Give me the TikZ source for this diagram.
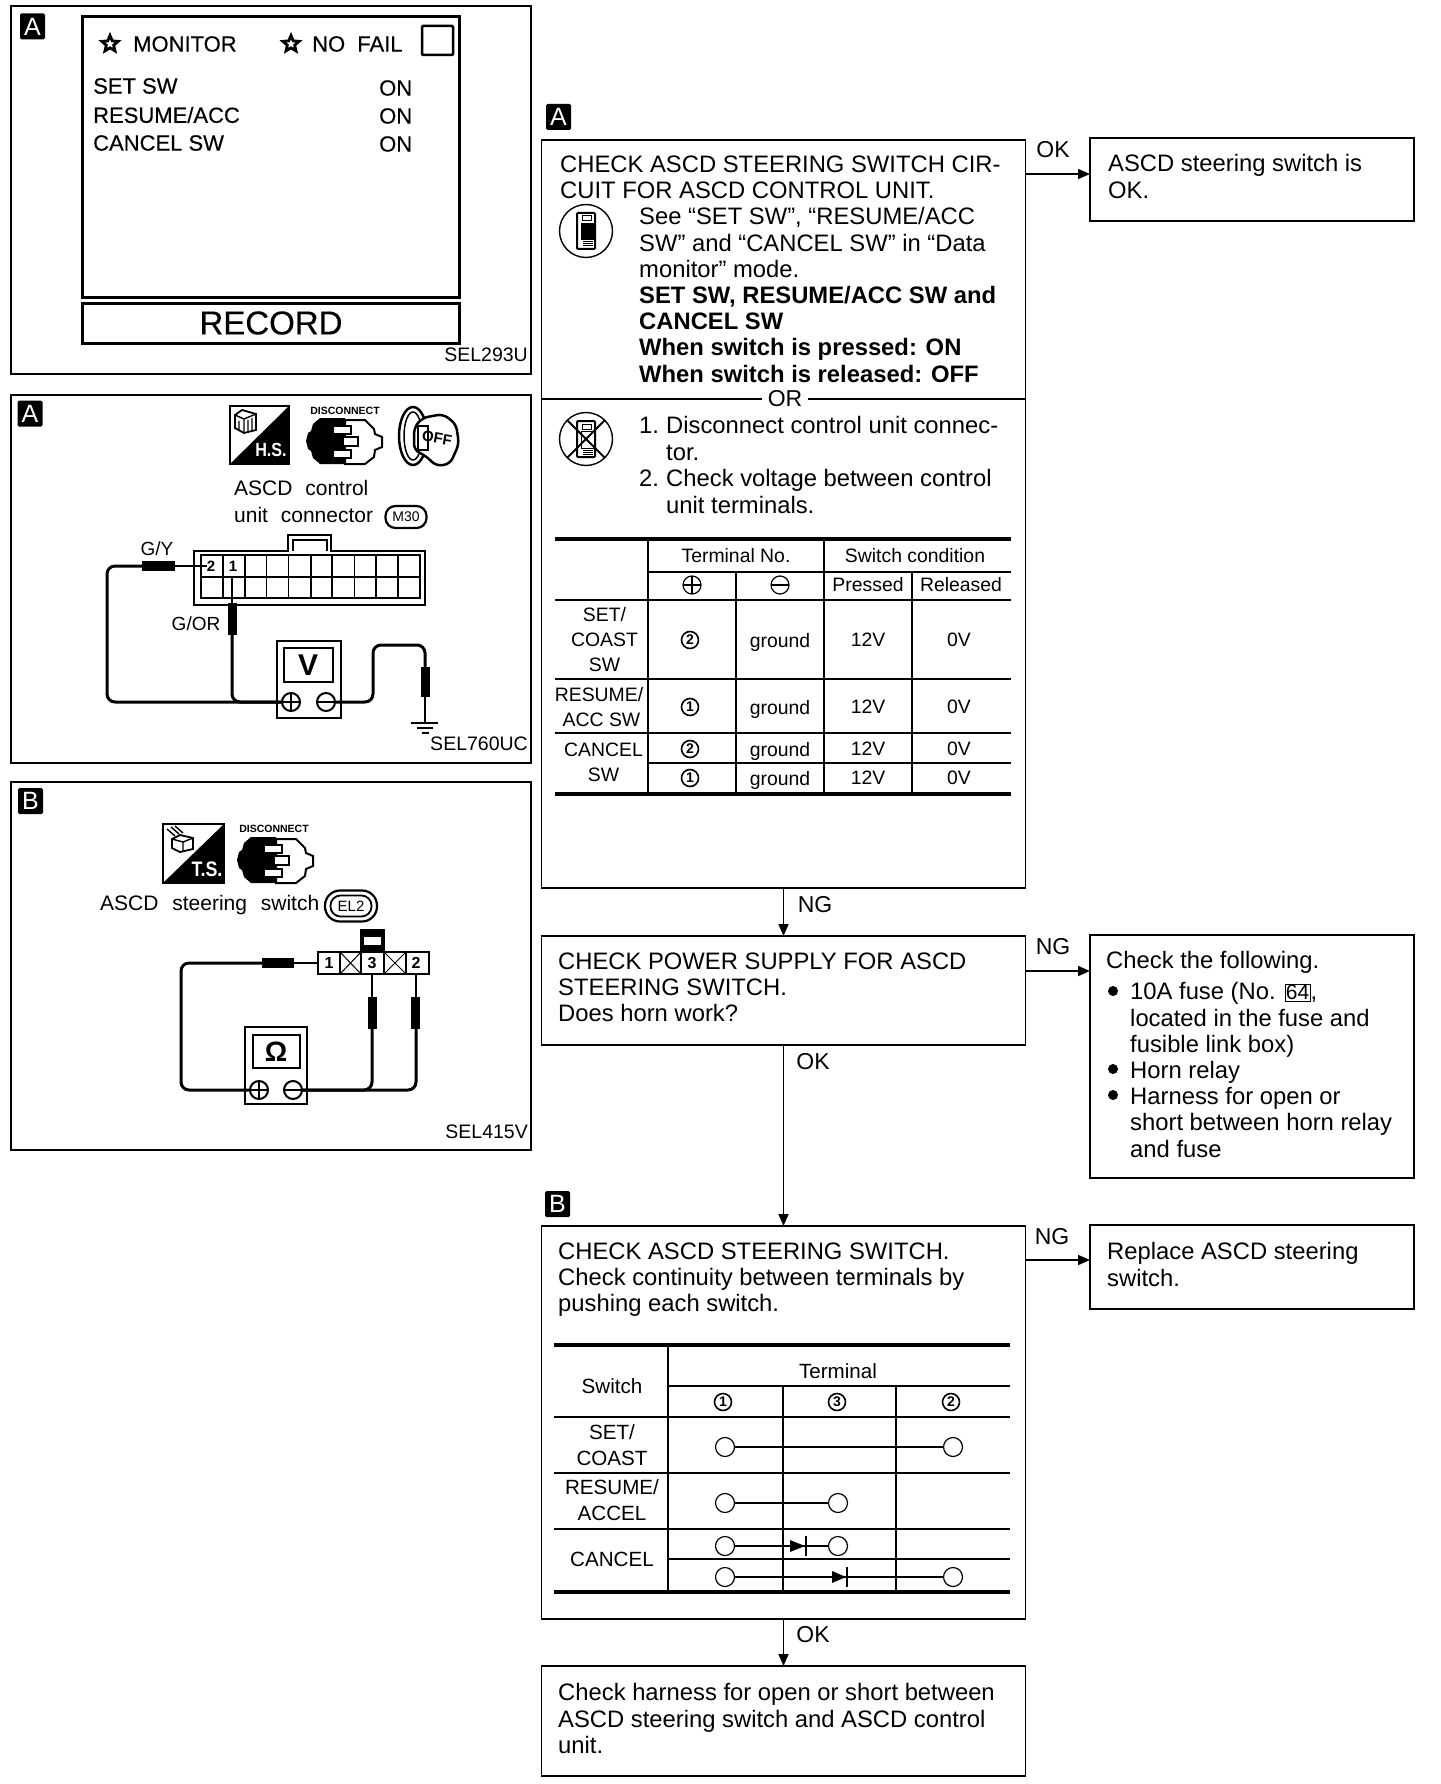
\documentclass[tikz,border=0pt]{standalone}
\usepackage{fontspec}
\setmainfont{Liberation Sans}
\newfontfamily\heavyfont[FakeBold=0.35]{Liberation Sans}
\usetikzlibrary{arrows.meta,shapes.geometric}
\setlength{\fboxsep}{1pt}
\tikzset{
  panelframe/.style={draw,line width=1.6pt,inner sep=0pt,outer sep=0pt},
  flowbox/.style={draw,line width=1.8pt,inner sep=0pt,outer sep=0pt},
  flowarrow/.style={line width=1.6pt,-{Triangle[length=12pt,width=10pt]}},
  tagbox/.style={fill=black,text=white,rounded corners=1.5pt,minimum width=25pt,minimum height=26pt,inner sep=0pt,font=\fontsize{25}{25}\selectfont},
  boxtext/.style={anchor=north west,align=left,inner sep=0pt,font=\fontsize{23.8}{26.2}\selectfont},
  arrowtext/.style={inner sep=0pt,font=\fontsize{23}{23}\selectfont},
  monitext/.style={anchor=west,inner sep=0pt,font=\heavyfont\fontsize{22}{22}\selectfont},
  labeltext/.style={anchor=west,inner sep=0pt,font=\fontsize{21}{21}\selectfont},
  codetext/.style={anchor=east,inner sep=0pt,font=\fontsize{19.5}{19.5}\selectfont},
  tabletext/.style={inner sep=0pt,align=center,font=\fontsize{19.4}{25}\selectfont},
  widetext/.style={inner sep=0pt,align=center,font=\fontsize{20.6}{26}\selectfont},
  termmark/.style={draw,circle,line width=1.6pt,inner sep=0pt,minimum size=17pt,font=\bfseries\fontsize{14}{14}\selectfont},
  polemark/.style={draw,circle,line width=1.2pt,inner sep=0pt,minimum size=18pt},
  heavyrule/.style={line width=4pt},
  tablerule/.style={line width=2pt},
  wire/.style={line width=3pt,rounded corners=8pt},
  thinwire/.style={line width=2pt},
  probe/.style={fill=black},
  staricon/.style={draw,star,star points=5,star point ratio=2.2,line width=2.8pt,inner sep=0pt,minimum size=17pt},
  meterpole/.style={draw,fill=white,circle,line width=2pt,inner sep=0pt,minimum size=18pt},
  swnode/.style={draw,fill=white,circle,line width=1.2pt,inner sep=0pt,minimum size=19pt},
  smallcaps/.style={inner sep=0pt,font=\bfseries\fontsize{10.5}{10.5}\selectfont}
}
\begin{document}
\begin{tikzpicture}[x=1pt,y=-1pt]
\useasboundingbox (0,0) rectangle (1440,1784);
\fill[white] (0,0) rectangle (1440,1784);
\draw[panelframe] (11,6) rectangle (531,374);
\node[tagbox] (tagmonitor) at (32.5,26.5) {A};
\draw[line width=3pt] (82,17) rectangle (459,298);
\draw[line width=3pt] (82,304) rectangle (459,343);
\draw[line width=2.5pt,rounded corners=1pt] (422,26) rectangle (453,55);
\node[staricon] (starone) at (110,44) {};
\node[monitext] (monitor) at (133,44) {MONITOR};
\node[staricon] (startwo) at (291,44) {};
\node[monitext] (nofail) at (312,44) {NO\hspace{6pt} FAIL};
\node[monitext] (setsw) at (93,86) {SET SW};
\node[monitext] (resumesw) at (93,115) {RESUME/ACC};
\node[monitext] (cancelsw) at (93,143) {CANCEL SW};
\node[monitext] (onone) at (379,88) {ON};
\node[monitext] (ontwo) at (379,116) {ON};
\node[monitext] (onthree) at (379,144) {ON};
\node[inner sep=0pt,font=\heavyfont\fontsize{33}{33}\selectfont] (record) at (271,323) {RECORD};
\node[codetext] (codeone) at (528,355) {SEL293U};
\draw[panelframe] (11,395) rectangle (531,763);
\node[tagbox] (tagcontrol) at (30,413.5) {A};
\begin{scope}[shift={(230,406)}]
\draw[line width=1.6pt] (0,0) rectangle (59,58);
\fill (59,0) -- (59,58) -- (0,58) -- cycle;
\draw[line width=1.8pt] (5,9) -- (12,4) -- (26,8) -- (26,24) -- (14,27) -- (5,22) -- cycle;
\draw[line width=1.4pt] (5,9) -- (14,13) -- (26,8) (14,13) -- (14,27) (9,15) -- (9,24) (18,14) -- (18,25) (22,12) -- (22,24);
\node[text=white,inner sep=0pt,xscale=0.85,font=\bfseries\fontsize{19}{19}\selectfont] (hsone) at (41,44) {H.S.};
\end{scope}
\node[smallcaps] (discone) at (345,411) {DISCONNECT};
\begin{scope}[shift={(306,417)}]
\fill (0,24) -- (2,16) -- (5,14) -- (7,7) -- (14,1) -- (39,1) -- (39,47) -- (14,47) -- (7,41) -- (5,34) -- (2,32) -- cycle;
\draw[line width=2pt,fill=white] (39,3) -- (59,3) -- (68,12) -- (69,17) -- (76,20) -- (76,30) -- (69,33) -- (68,40) -- (59,47) -- (39,47) -- cycle;
\draw[line width=1.8pt,fill=white] (27,9) rectangle (45,17);
\draw[line width=1.8pt,fill=white] (27,33) rectangle (45,41);
\draw[line width=1.8pt,fill=white] (37,20) rectangle (52,29);
\end{scope}
\begin{scope}[shift={(398,406)}]
\draw[line width=2.5pt] (15,30) ellipse (14 and 29);
\draw[line width=1.5pt] (15,30) ellipse (9 and 24);
\draw[line width=2.5pt,fill=white,rounded corners=6pt] (16,22) -- (24,12) -- (45,8) -- (58,18) -- (61,38) -- (52,58) -- (38,60) -- (28,50) -- (16,44) -- cycle;
\node[inner sep=0pt,rotate=-10,font=\bfseries\fontsize{15}{15}\selectfont] (offkey) at (39,32) {OFF};
\draw[line width=2.5pt] (20,20) rectangle (30,44);
\end{scope}
\node[labeltext] (ascdone) at (234,488) {ASCD\hspace{7pt} control};
\node[labeltext] (unitone) at (234,515) {unit\hspace{7pt} connector};
\node[draw,rounded corners=10pt,line width=2.2pt,minimum width=41pt,minimum height=22pt,inner sep=0pt,font=\fontsize{14}{14}\selectfont] (mthirty) at (406,517) {M30};
\draw[line width=1.6pt] (194,605) -- (194,551) -- (288,551) -- (288,535) -- (331,535) -- (331,551) -- (425,551) -- (425,605) -- cycle;
\draw[line width=1.4pt] (293,551) -- (293,540) -- (327,540) -- (327,551);
\draw[line width=2pt] (201,555) rectangle (420,598);
\draw[line width=1.6pt] (201,577) -- (420,577);
\draw[line width=1.6pt] (222.900,555) -- (222.900,598);
\draw[line width=1.6pt] (244.800,555) -- (244.800,598);
\draw[line width=1pt] (266.700,555) -- (266.700,598);
\draw[line width=1.6pt] (288.600,555) -- (288.600,598);
\draw[line width=2pt] (310.500,555) -- (310.500,598);
\draw[line width=2pt] (332.400,555) -- (332.400,598);
\draw[line width=1.6pt] (354.300,555) -- (354.300,598);
\draw[line width=1.6pt] (376.200,555) -- (376.200,598);
\draw[line width=1.6pt] (398.100,555) -- (398.100,598);
\node[inner sep=0pt,font=\bfseries\fontsize{15}{15}\selectfont] (pintwo) at (211,566) {2};
\node[inner sep=0pt,font=\bfseries\fontsize{15}{15}\selectfont] (pinone) at (233,566) {1};
\node[inner sep=0pt,font=\fontsize{19}{19}\selectfont] (gylabel) at (157,549) {G/Y};
\node[inner sep=0pt,font=\fontsize{19}{19}\selectfont] (gorlabel) at (196,624) {G/OR};
\draw[line width=2.5pt,fill=white] (277,641) rectangle (341,718);
\draw[line width=2.5pt] (284,648) rectangle (333,682);
\node[inner sep=0pt,font=\bfseries\fontsize{30}{30}\selectfont] (vmeter) at (308,665) {V};
\node[meterpole] (plusone) at (291,702) {};
\node[meterpole] (minusone) at (326,702) {};
\draw[line width=1.5pt] (282,702) -- (300,702) (291,693) -- (291,711) (317,702) -- (335,702);
\draw[thinwire] (pintwo.west) -- (175,566);
\fill[probe] (142,561) rectangle (175,571);
\draw[wire] (142,566) -- (107,566) -- (107,702) -- (plusone.west);
\draw[thinwire] (232,578) -- (232,603);
\fill[probe] (227.500,603) rectangle (236.500,635);
\draw[wire] (232,635) -- (232,702) -- (plusone.west);
\draw[wire] (minusone.east) -- (373,702) -- (373,645) -- (425,645) -- (425,667);
\fill[probe] (421,667) rectangle (430,697);
\draw[line width=2.5pt] (425,697) -- (425,722);
\draw[line width=2.5pt] (411,723) -- (438,723);
\draw[line width=2.5pt] (417,728) -- (433,728);
\draw[line width=2.5pt] (422,733) -- (429,733);
\node[codetext] (codetwo) at (528,744) {SEL760UC};
\draw[panelframe] (11,782) rectangle (531,1150);
\node[tagbox] (tagswitch) at (30.5,801) {B};
\begin{scope}[shift={(163,824)}]
\draw[line width=1.6pt] (0,0) rectangle (61,59);
\fill (61,0) -- (61,59) -- (0,59) -- cycle;
\draw[line width=1.8pt] (9,15) -- (17,11) -- (30,14) -- (30,25) -- (17,28) -- (9,24) -- cycle;
\draw[line width=1.4pt] (9,15) -- (20,18) -- (30,14) (20,18) -- (20,28) (4,5) -- (12,12) (8,3) -- (16,10) (12,2) -- (20,9);
\node[text=white,inner sep=0pt,xscale=0.85,font=\bfseries\fontsize{21}{21}\selectfont] (tsone) at (44,45) {T.S.};
\end{scope}
\node[smallcaps] (disctwo) at (274,829) {DISCONNECT};
\begin{scope}[shift={(237,836)}]
\fill (0,24) -- (2,16) -- (5,14) -- (7,7) -- (14,1) -- (39,1) -- (39,47) -- (14,47) -- (7,41) -- (5,34) -- (2,32) -- cycle;
\draw[line width=2pt,fill=white] (39,3) -- (59,3) -- (68,12) -- (69,17) -- (76,20) -- (76,30) -- (69,33) -- (68,40) -- (59,47) -- (39,47) -- cycle;
\draw[line width=1.8pt,fill=white] (27,9) rectangle (45,17);
\draw[line width=1.8pt,fill=white] (27,33) rectangle (45,41);
\draw[line width=1.8pt,fill=white] (37,20) rectangle (52,29);
\end{scope}
\node[labeltext] (ascdtwo) at (100,905) {ASCD\hspace{8pt} steering\hspace{8pt} switch};
\node[draw,rounded corners=15pt,line width=2.2pt,minimum width=52pt,minimum height=31pt,inner sep=0pt] (eltwoouter) at (351,906) {};
\node[draw,rounded corners=10pt,line width=1.8pt,minimum width=41pt,minimum height=21pt,inner sep=0pt,font=\fontsize{15}{15}\selectfont] (eltwo) at (351,906) {EL2};
\draw[line width=2.5pt] (318,952) rectangle (429,974);
\draw[line width=1.6pt] (340,952) -- (340,974);
\draw[line width=1.6pt] (361,952) -- (361,974);
\draw[line width=1.6pt] (384,952) -- (384,974);
\draw[line width=1.6pt] (406,952) -- (406,974);
\draw[line width=1pt] (340,952) -- (361,974) (340,974) -- (361,952);
\draw[line width=1pt] (384,952) -- (406,974) (384,974) -- (406,952);
\fill (360,929) rectangle (385,952);
\fill[white] (364,937) rectangle (381,945);
\node[inner sep=0pt,font=\bfseries\fontsize{16}{16}\selectfont] (termone) at (329,963) {1};
\node[inner sep=0pt,font=\bfseries\fontsize{16}{16}\selectfont] (termthree) at (372,963) {3};
\node[inner sep=0pt,font=\bfseries\fontsize{16}{16}\selectfont] (termtwo) at (416,963) {2};
\draw[line width=2.5pt,fill=white] (245,1027) rectangle (307,1104);
\draw[line width=2.5pt] (253,1035) rectangle (300,1068);
\node[inner sep=0pt,font=\bfseries\fontsize{28}{28}\selectfont] (ohmmeter) at (276,1052) {Ω};
\node[meterpole] (plustwo) at (259,1090) {};
\node[meterpole] (minustwo) at (293,1090) {};
\draw[line width=1.5pt] (250,1090) -- (268,1090) (259,1081) -- (259,1099) (284,1090) -- (302,1090);
\draw[thinwire] (318,963) -- (294,963);
\fill[probe] (262,958) rectangle (294,968);
\draw[wire] (262,963) -- (181,963) -- (181,1090) -- (plustwo.west);
\draw[thinwire] (372,974) -- (372,997);
\fill[probe] (368,997) rectangle (377,1029);
\draw[wire] (372,1029) -- (372,1090) -- (minustwo.east);
\draw[thinwire] (416,974) -- (416,997);
\fill[probe] (411,997) rectangle (420,1029);
\draw[wire] (416,1029) -- (416,1090) -- (minustwo.east);
\node[codetext] (codethree) at (528,1132) {SEL415V};
\node[tagbox] (tagflowa) at (558.5,117) {A};
\node[tagbox] (tagflowb) at (557.5,1204) {B};
\node[flowbox,minimum width=484pt,minimum height=748pt] (checkcircuit) at (783.500,514) {};
\node[flowbox,minimum width=324pt,minimum height=83pt] (switchok) at (1252,179.500) {};
\node[flowbox,minimum width=484pt,minimum height=109pt] (checkpower) at (783.500,990.500) {};
\node[flowbox,minimum width=324pt,minimum height=243pt] (checkfollow) at (1252,1056.500) {};
\node[flowbox,minimum width=484pt,minimum height=393pt] (checkswitch) at (783.500,1422.500) {};
\node[flowbox,minimum width=324pt,minimum height=84pt] (replaceswitch) at (1252,1267) {};
\node[flowbox,minimum width=484pt,minimum height=110pt] (checkharness) at (783.500,1721) {};
\coordinate (okin) at (1090,174);
\coordinate (ngin) at (1090,971);
\coordinate (ngtwoin) at (1090,1260);
\draw[flowarrow] (checkcircuit.east |- okin) -- (okin);
\draw[flowarrow] (checkpower.east |- ngin) -- (ngin);
\draw[flowarrow] (checkswitch.east |- ngtwoin) -- (ngtwoin);
\draw[flowarrow] (checkcircuit.south) -- (checkpower.north);
\draw[flowarrow] (checkpower.south) -- (checkswitch.north);
\draw[flowarrow] (checkswitch.south) -- (checkharness.north);
\node[arrowtext] (oklabelone) at (1053,150) {OK};
\node[arrowtext] (nglabelone) at (815,905) {NG};
\node[arrowtext] (nglabeltwo) at (1053,947) {NG};
\node[arrowtext] (oklabeltwo) at (813,1062) {OK};
\node[arrowtext] (nglabelthree) at (1052,1237) {NG};
\node[arrowtext] (oklabelthree) at (813,1635) {OK};
\node[boxtext] (headone) at (560,155.500) {CHECK ASCD STEERING SWITCH CIR-\\CUIT FOR ASCD CONTROL UNIT.};
\node[boxtext] (seetext) at (639,207.500) {See “SET SW”, “RESUME/ACC\\SW” and “CANCEL SW” in “Data\\monitor” mode.\\\textbf{SET SW, RESUME/ACC SW and}\\\textbf{CANCEL SW}\\\textbf{When switch is pressed: ON}\\\textbf{When switch is released: OFF}};
\draw[line width=1.8pt] (checkcircuit.west |- 0,399) -- (checkcircuit.east |- 0,399);
\node[fill=white,inner sep=6pt,font=\fontsize{23}{23}\selectfont] (ortext) at (785,399) {OR};
\node[boxtext] (stepone) at (639,416.500) {1.};
\node[boxtext] (steponetext) at (666,416.500) {Disconnect control unit connec-\\tor.};
\node[boxtext] (steptwo) at (639,469.500) {2.};
\node[boxtext] (steptwotext) at (666,469.500) {Check voltage between control\\unit terminals.};
\begin{scope}[shift={(586,231)}]
\draw[line width=1.4pt] (0,0) circle (26.5);
\draw[line width=2pt,rounded corners=1pt] (-9,-18) rectangle (9,18);
\fill (-5,-8) rectangle (8,9);
\draw[line width=1pt] (-4,-15) rectangle (5,-10) (-3,11) -- (7,11) (-3,13) -- (7,13) (-3,15) -- (7,15);
\end{scope}
\begin{scope}[shift={(586,439)}]
\draw[line width=1.4pt] (0,0) circle (26.5);
\draw[line width=2pt,rounded corners=1pt] (-9,-18) rectangle (9,18);
\draw[line width=1pt] (-5,-8) rectangle (8,9) (-4,-15) rectangle (5,-10) (-3,11) -- (7,11) (-3,13) -- (7,13) (-3,15) -- (7,15);
\draw[line width=2pt] (-19,-19) -- (19,19) (-19,19) -- (19,-19);
\end{scope}
\draw[heavyrule] (555,539) -- (1011,539);
\draw[tablerule] (648,572) -- (1011,572);
\draw[tablerule] (555,600) -- (1011,600);
\draw[tablerule] (555,679) -- (1011,679);
\draw[tablerule] (555,733) -- (1011,733);
\draw[tablerule] (648,763) -- (1011,763);
\draw[heavyrule] (555,794) -- (1011,794);
\draw[tablerule] (648,539) -- (648,794);
\draw[tablerule] (736,572) -- (736,794);
\draw[tablerule] (824,539) -- (824,794);
\draw[tablerule] (912,572) -- (912,794);
\node[tabletext] (terminalno) at (736,556) {Terminal No.};
\node[tabletext] (switchcond) at (915,556) {Switch condition};
\node[polemark] (poleplus) at (692,585) {};
\draw[line width=1.2pt] (683,585) -- (701,585) (692,576) -- (692,594);
\node[polemark] (poleminus) at (780,585) {};
\draw[line width=1.2pt] (771,585) -- (789,585);
\node[tabletext] (pressed) at (868,585) {Pressed};
\node[tabletext] (released) at (961,585) {Released};
\node[tabletext] (rowset) at (604.500,640) {SET/\\COAST\\SW};
\node[termmark] (markone) at (690,640) {2};
\node[tabletext] (groundone) at (780,642) {ground};
\node[tabletext] (highone) at (868,640) {12V};
\node[tabletext] (lowone) at (959,640) {0V};
\node[tabletext] (rowresume) at (601.500,707) {RESUME/\hspace*{5pt}\\ACC SW};
\node[termmark] (marktwo) at (690,707) {1};
\node[tabletext] (groundtwo) at (780,709) {ground};
\node[tabletext] (hightwo) at (868,707) {12V};
\node[tabletext] (lowtwo) at (959,707) {0V};
\node[tabletext] (rowcancel) at (603.500,762) {CANCEL\\SW};
\node[termmark] (markthree) at (690,749) {2};
\node[tabletext] (groundthree) at (780,751) {ground};
\node[tabletext] (highthree) at (868,749) {12V};
\node[tabletext] (lowthree) at (959,749) {0V};
\node[termmark] (markfour) at (690,778) {1};
\node[tabletext] (groundfour) at (780,780) {ground};
\node[tabletext] (highfour) at (868,778) {12V};
\node[tabletext] (lowfour) at (959,778) {0V};
\node[boxtext] (switchoktext) at (1108,154.500) {ASCD steering switch is\\OK.};
\node[boxtext] (powertext) at (558,952.500) {CHECK POWER SUPPLY FOR ASCD\\STEERING SWITCH.\\Does horn work?};
\node[boxtext] (followhead) at (1106,951.500) {Check the following.};
\node[boxtext] (followtext) at (1130,982.500) {10A fuse (No. \fbox{\fontsize{21}{21}\selectfont 64},\\located in the fuse and\\fusible link box)\\Horn relay\\Harness for open or\\short between horn relay\\and fuse};
\node[circle,fill=black,inner sep=0pt,minimum size=10pt] (bulletone) at (1113,991) {};
\node[circle,fill=black,inner sep=0pt,minimum size=10pt] (bullettwo) at (1113,1069) {};
\node[circle,fill=black,inner sep=0pt,minimum size=10pt] (bulletthree) at (1113,1095) {};
\node[boxtext] (switchtext) at (558,1242.500) {CHECK ASCD STEERING SWITCH.\\Check continuity between terminals by\\pushing each switch.};
\node[boxtext] (replacetext) at (1107,1242.500) {Replace ASCD steering\\switch.};
\draw[heavyrule] (554,1345) -- (1010,1345);
\draw[tablerule] (668,1386) -- (1010,1386);
\draw[tablerule] (554,1417) -- (1010,1417);
\draw[tablerule] (554,1473) -- (1010,1473);
\draw[tablerule] (554,1529) -- (1010,1529);
\draw[tablerule] (668,1559) -- (1010,1559);
\draw[heavyrule] (554,1592) -- (1010,1592);
\draw[tablerule] (668,1345) -- (668,1592);
\draw[tablerule] (782.500,1386) -- (782.500,1592);
\draw[line width=2.5pt] (896,1386) -- (896,1592);
\node[widetext] (switchhead) at (612,1386) {Switch};
\node[widetext] (terminalhead) at (838,1371) {Terminal};
\node[termmark] (headmarkone) at (723,1402) {1};
\node[termmark] (headmarktwo) at (837,1402) {3};
\node[termmark] (headmarkthree) at (951,1402) {2};
\node[widetext] (setrow) at (612,1445) {SET/\\COAST};
\node[widetext] (resumerow) at (612,1500) {RESUME/\\ACCEL};
\node[widetext] (cancelrow) at (612,1559) {CANCEL};
\node[swnode] (setleft) at (725,1447) {};
\node[swnode] (setright) at (953,1447) {};
\draw[line width=2.5pt] (setleft) -- (setright);
\node[swnode] (resumeleft) at (725,1503) {};
\node[swnode] (resumeright) at (838,1503) {};
\draw[line width=1.8pt] (resumeleft) -- (resumeright);
\node[swnode] (cancelleft) at (725,1546) {};
\node[swnode] (cancelright) at (838,1546) {};
\draw[line width=1.6pt] (cancelleft) -- (cancelright);
\fill (790,1540) -- (805,1546) -- (790,1552) -- cycle;
\draw[line width=2pt] (806,1536) -- (806,1556);
\node[swnode] (lowerleft) at (725,1577) {};
\node[swnode] (lowerright) at (953,1577) {};
\draw[line width=2.5pt] (lowerleft) -- (lowerright);
\fill (832,1571) -- (846,1577) -- (832,1583) -- cycle;
\draw[line width=2pt] (847,1567) -- (847,1587);
\node[boxtext] (harnesstext) at (558,1683.500) {Check harness for open or short between\\ASCD steering switch and ASCD control\\unit.};
\end{tikzpicture}
\end{document}
